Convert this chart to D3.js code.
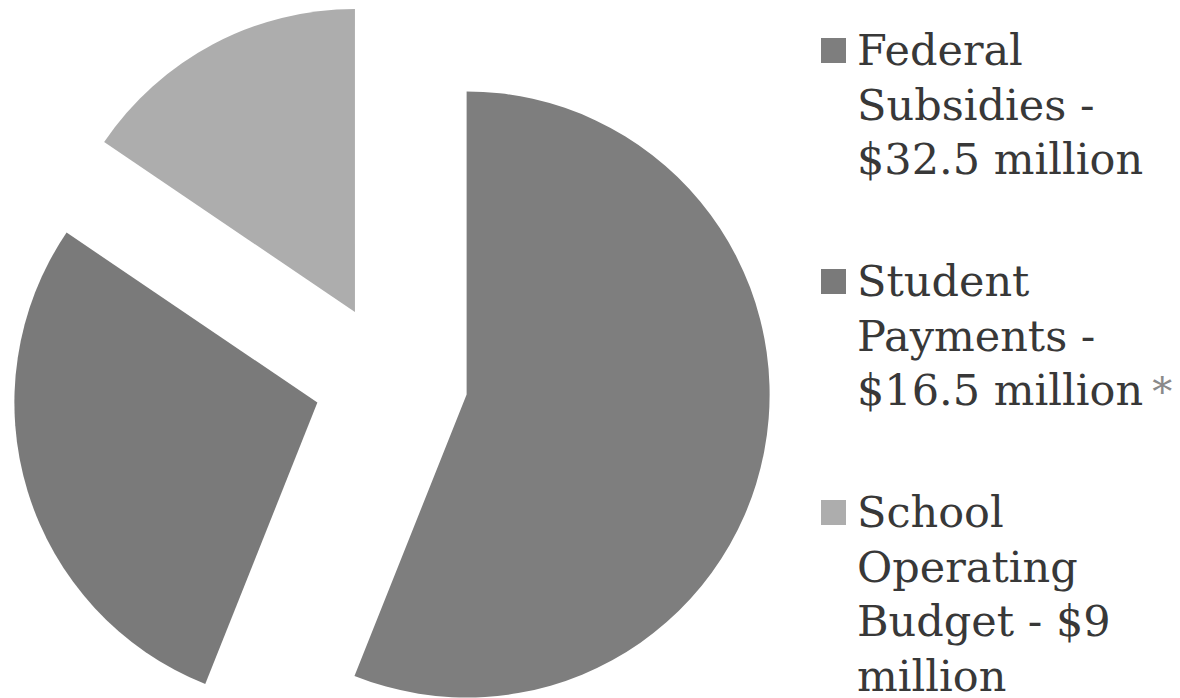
<!DOCTYPE html>
<html>
<head>
<meta charset="utf-8">
<script src="https://cdn.jsdelivr.net/npm/d3@7"></script>
<style>
  html, body { margin: 0; padding: 0; background: #fff; overflow: hidden; }
  svg { display: block; }
</style>
</head>
<body>
<script>
// chart data
var categories = ["Federal Subsidies", "Student Payments", "School Operating Budget"];
var values = [32.5, 16.5, 9]; // $ million
var legendLines = [
  ["Federal", "Subsidies -", "$32.5 million"],
  ["Student", "Payments -", "$16.5 million"],
  ["School", "Operating", "Budget - $9", "million"]
];
var colors = ["#7e7e7e", "#7a7a7a", "#adadad"];

var size = ({ width: 1180, height: 698 });
var center = ({ x: 391, y: 380 });
var radius = 303;
var explode = 77; // offset of each slice along its mid angle

var svg = d3.select("body").append("svg")
  .attr("width", size.width)
  .attr("height", size.height)
  .attr("viewBox", [0, 0, size.width, size.height]);

var pie = d3.pie().sort(null).value(function(d) { return d; });
var arc = d3.arc().innerRadius(0).outerRadius(radius);
var arcs = pie(values);

var g = svg.append("g")
  .attr("transform", "translate(" + center.x + "," + center.y + ")");

g.selectAll("path")
  .data(arcs)
  .enter()
  .append("path")
  .attr("d", arc)
  .attr("fill", function(d, i) { return colors[i]; })
  .attr("transform", function(d) {
    var mid = (d.startAngle + d.endAngle) / 2;
    return "translate(" + (Math.sin(mid) * explode) + "," + (-Math.cos(mid) * explode) + ")";
  });

// legend
var lineH = 54.5;
var legendTop = 65;  // first baseline
var legendStep = 231;

var legend = svg.append("g")
  .attr("font-family", "'DejaVu Serif', 'Liberation Serif', serif")
  .attr("font-size", 43)
  .attr("fill", "#383838");

var items = legend.selectAll("g.item")
  .data(categories)
  .enter()
  .append("g")
  .attr("class", "item")
  .attr("transform", function(d, i) { return "translate(0," + (legendTop + i * legendStep) + ")"; });

items.append("rect")
  .attr("x", 821)
  .attr("y", -27)
  .attr("width", 25)
  .attr("height", 25)
  .attr("fill", function(d, i) { return colors[i]; });

var text = items.append("text")
  .attr("x", 857)
  .attr("y", 0);

text.each(function(d, i) {
  var t = d3.select(this);
  legendLines[i].forEach(function(line, j) {
    t.append("tspan")
      .attr("x", 857)
      .attr("y", j * lineH)
      .text(line);
  });
});

// asterisk note after student payments
items.filter(function(d, i) { return i === 1; })
  .select("text")
  .append("tspan")
  .attr("dx", 9)
  .attr("fill", "#8a8a8a")
  .attr("font-size", 40)
  .text("*");
</script>
</body>
</html>
